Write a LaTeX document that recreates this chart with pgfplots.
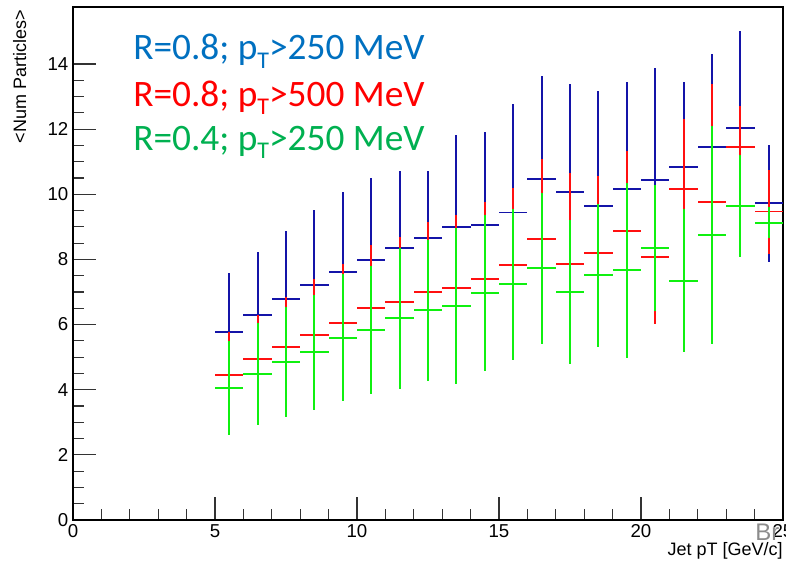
\documentclass[border=0pt]{standalone}
\usepackage{fontspec}
\setmainfont{Liberation Sans}
\newfontfamily\carlito{Carlito}
\usepackage{pgfplots}
\usepackage{pgfplotstable}
\usetikzlibrary{calc}
\pgfplotsset{compat=1.18}

\definecolor{barblue}{HTML}{1414A8}
\definecolor{barred}{HTML}{FF1010}
\definecolor{bargreen}{HTML}{10F010}
\definecolor{txtblue}{HTML}{0070C0}
\definecolor{txtred}{HTML}{FF0000}
\definecolor{txtgreen}{HTML}{00B050}

% x = bin centre, y = mean, ey = error
\pgfplotstableread{
x    y     ey
5.5  5.77  1.80
6.5  6.29  1.93
7.5  6.79  2.09
8.5  7.21  2.31
9.5  7.62  2.45
10.5 7.97  2.52
11.5 8.36  2.36
12.5 8.67  2.05
13.5 9.00  2.83
14.5 9.06  2.84
15.5 9.44  3.32
16.5 10.48 3.16
17.5 10.07 3.31
18.5 9.65  3.52
19.5 10.16 3.28
20.5 10.45 3.44
21.5 10.84 2.60
22.5 11.46 2.85
23.5 12.03 2.98
24.5 9.72  1.80
}\rEightLow

\pgfplotstableread{
x    y     ey
5.5  4.45  1.32
6.5  4.93  1.36
7.5  5.32  1.54
8.5  5.67  1.72
9.5  6.06  1.79
10.5 6.50  1.94
11.5 6.68  2.00
12.5 7.00  2.16
13.5 7.13  2.22
14.5 7.41  2.36
15.5 7.83  2.35
16.5 8.63  2.45
17.5 7.86  2.78
18.5 8.19  2.38
19.5 8.88  2.46
20.5 8.07  2.06
21.5 10.17 2.14
22.5 9.75  3.63
23.5 11.46 1.25
24.5 9.47  1.29
}\rEightHigh

\pgfplotstableread{
x    y     ey
5.5  4.06  1.45
6.5  4.49  1.56
7.5  4.86  1.69
8.5  5.15  1.77
9.5  5.60  1.96
10.5 5.84  1.97
11.5 6.19  2.17
12.5 6.44  2.17
13.5 6.58  2.39
14.5 6.96  2.40
15.5 7.24  2.32
16.5 7.73  2.32
17.5 6.99  2.21
18.5 7.51  2.20
19.5 7.67  2.69
20.5 8.35  1.93
21.5 7.35  2.19
22.5 8.74  3.35
23.5 9.65  1.57
24.5 9.13  0.48
}\rFourLow

\pgfplotsset{
  profile/.style={
    draw=none, mark=none,
    error bars/.cd,
      x dir=both, x fixed=0.5,
      y dir=both, y explicit,
      error mark=none,
      error bar style={draw=#1, solid, line width=1.4pt},
  },
}

\begin{document}
\begin{tikzpicture}
\begin{axis}[
  scale only axis,
  width=532.5pt, height=384.75pt,
  xmin=0, xmax=25, ymin=0, ymax=15.75,
  xtick={0,5,...,25}, ytick={0,2,...,14},
  minor x tick num=4, minor y tick num=3,
  tick pos=left, tick align=inside,
  major tick length=17pt, minor tick length=8.5pt,
  axis line style={line width=0.9pt},
  every tick/.style={black!80, line width=0.9pt},
  tick label style={font=\fontsize{14}{14}\selectfont},
  /pgf/number format/assume math mode=true,
  xlabel={Jet pT [GeV/c]},
  ylabel={<Num Particles>},
  xlabel style={at={(rel axis cs:1,-0.070)}, anchor=base east, inner sep=0pt,
                font=\fontsize{13.5}{13.5}\selectfont},
  ylabel style={at={(rel axis cs:-0.066,0.994)}, anchor=base east, inner sep=0pt,
                font=\fontsize{13.5}{13.5}\selectfont},
  clip=false,
]
\addplot[profile=barblue] table[x=x, y=y, y error=ey] {\rEightLow};
\addplot[profile=barred] table[x=x, y=y, y error=ey] {\rEightHigh};
\addplot[profile=bargreen] table[x=x, y=y, y error=ey] {\rFourLow};

\node[anchor=base west, inner sep=0pt, text=txtblue,
      font=\carlito\fontsize{28}{28}\selectfont]
  at (rel axis cs:0.0845,0.8967) {R=0.8; p\raisebox{-0.45ex}{\fontsize{18}{18}\selectfont T}>250 MeV};
\node[anchor=base west, inner sep=0pt, text=txtred,
      font=\carlito\fontsize{28}{28}\selectfont]
  at (rel axis cs:0.0845,0.807) {R=0.8; p\raisebox{-0.45ex}{\fontsize{18}{18}\selectfont T}>500 MeV};
\node[anchor=base west, inner sep=0pt, text=txtgreen,
      font=\carlito\fontsize{28}{28}\selectfont]
  at (rel axis cs:0.0845,0.720) {R=0.4; p\raisebox{-0.45ex}{\fontsize{18}{18}\selectfont T}>250 MeV};

\node[anchor=base west, inner sep=0pt, text=black!45,
      font=\fontsize{18}{18}\selectfont]
  at (rel axis cs:0.9606,-0.039) {Br};

\coordinate (SW) at (rel axis cs:0,0);
\coordinate (NE) at (rel axis cs:1,1);
\end{axis}
\pgfresetboundingbox
\path[use as bounding box] ($(SW)+(-54.75pt,-33.75pt)$) rectangle ($(NE)+(2.25pt,5.25pt)$);
\end{tikzpicture}
\end{document}
